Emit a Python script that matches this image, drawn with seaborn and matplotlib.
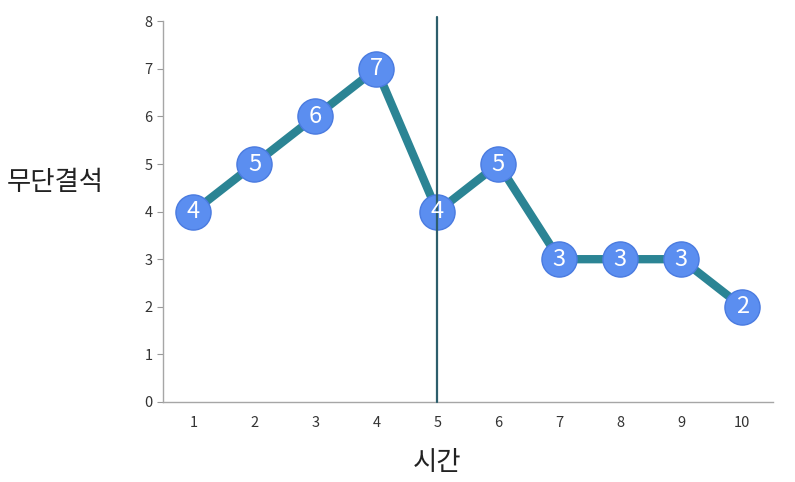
import matplotlib
matplotlib.use("Agg")
import matplotlib.pyplot as plt
import numpy as np
import pandas as pd
import seaborn as sns

times = [1, 2, 3, 4, 5, 6, 7, 8, 9, 10]
absences = [4, 5, 6, 7, 4, 5, 3, 3, 3, 2]
y_ticks = [0, 1, 2, 3, 4, 5, 6, 7, 8]
split_time = 5

sns.set_style("white")
plt.rcParams["font.family"] = ["Noto Sans CJK KR", "DejaVu Sans"]

df = pd.DataFrame({"time": times, "absences": absences})

fig = plt.figure(figsize=(7.95, 4.82), dpi=100)
ax = fig.add_axes([0.205, 0.166, 0.767, 0.79])

sns.lineplot(data=df, x="time", y="absences", ax=ax, color="#2b8494",
             linewidth=6, zorder=2)
ax.scatter(df["time"], df["absences"], s=640, color="#5b8ef0",
           edgecolor="#4a7be0", linewidth=1, zorder=3)
for t, v in zip(times, absences):
    ax.text(t, v, str(v), ha="center", va="center", color="white",
            fontsize=17, zorder=5)

ax.axvline(split_time, ymin=0, ymax=1.01, color="#2d5e6c", linewidth=1.6,
           zorder=4, clip_on=False)

ax.set_xlim(0.5, 10.5)
ax.set_ylim(0, 8)
ax.set_xticks(times)
ax.set_xticklabels([str(t) for t in times], fontsize=10.5, color="#333333")
ax.set_xticks(np.arange(0.5, 11, 1), minor=True)
ax.tick_params(axis="x", which="major", length=0, pad=10)
ax.tick_params(axis="x", which="minor", length=4, color="#999999", direction="out")
ax.set_yticks(y_ticks)
ax.set_yticklabels([str(v) for v in y_ticks], fontsize=10.5, color="#333333")
ax.tick_params(axis="y", length=4, color="#999999", direction="out", left=True)

for side in ["top", "right"]:
    ax.spines[side].set_visible(False)
for side in ["left", "bottom"]:
    ax.spines[side].set_color("#a6a6a6")
    ax.spines[side].set_linewidth(1)

ax.set_xlabel("시간", fontsize=19, color="#222222", va="center", ha="center")
ax.xaxis.set_label_coords(0.45, -0.16)
ax.set_ylabel("무단결석", fontsize=19, rotation=0, color="#222222",
              ha="center", va="center")
ax.yaxis.set_label_coords(-0.177, 0.577)

fig.savefig("out.png", dpi=100)
